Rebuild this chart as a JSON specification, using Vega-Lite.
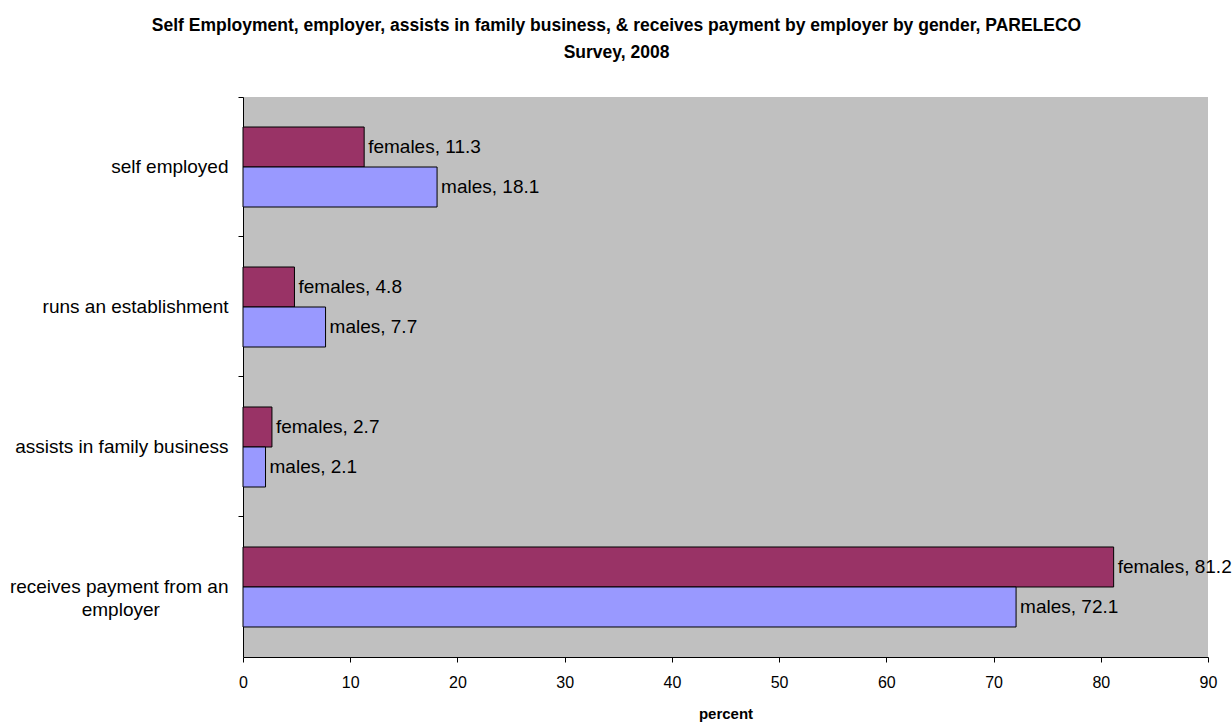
{
  "$schema": "https://vega.github.io/schema/vega-lite/v6.json",
  "autosize": "none",
  "width": 965,
  "height": 560,
  "padding": {"left": 243, "top": 97, "right": 24, "bottom": 66},
  "background": "white",
  "config": {
    "font": "Liberation Sans",
    "view": {"fill": "#C0C0C0", "stroke": null}
  },
  "title": {
    "text": ["Self Employment, employer, assists in family business, & receives payment by employer by gender, PARELECO", "Survey, 2008"],
    "fontSize": 17.5,
    "fontWeight": "bold",
    "font": "Liberation Sans",
    "color": "black",
    "anchor": "middle",
    "dx": -109,
    "offset": 35,
    "lineHeight": 27
  },
  "data": {
    "values": [
      {"category": "self employed", "gender": "females", "value": 11.3},
      {"category": "self employed", "gender": "males", "value": 18.1},
      {"category": "runs an establishment", "gender": "females", "value": 4.8},
      {"category": "runs an establishment", "gender": "males", "value": 7.7},
      {"category": "assists in family business", "gender": "females", "value": 2.7},
      {"category": "assists in family business", "gender": "males", "value": 2.1},
      {"category": "receives payment from an employer", "gender": "females", "value": 81.2},
      {"category": "receives payment from an employer", "gender": "males", "value": 72.1}
    ]
  },
  "transform": [
    {"calculate": "datum.gender + ', ' + format(datum.value, '.1f')", "as": "label"}
  ],
  "encoding": {
    "y": {
      "field": "category",
      "type": "nominal",
      "sort": ["self employed", "runs an establishment", "assists in family business", "receives payment from an employer"],
      "scale": {"paddingInner": 0.428571, "paddingOuter": 0.214286},
      "axis": {
        "title": null,
        "labelFontSize": 19,
        "labelColor": "black",
        "labelPadding": 10,
        "tickSize": 5,
        "tickColor": "black",
        "domainColor": "black",
        "bandPosition": -0.375,
        "labelLimit": 400,
        "labelExpr": "datum.value == 'receives payment from an employer' ? ['receives payment from an', 'employer\u00a0\u00a0\u00a0\u00a0\u00a0\u00a0\u00a0\u00a0\u00a0\u00a0\u00a0\u00a0\u00a0\u200b'] : datum.value",
        "labelLineHeight": 23
      }
    },
    "yOffset": {
      "field": "gender",
      "type": "nominal",
      "sort": ["females", "males"],
      "scale": {"paddingInner": 0, "paddingOuter": 0}
    },
    "x": {
      "field": "value",
      "type": "quantitative",
      "scale": {"domain": [0, 90], "nice": false},
      "axis": {
        "title": "percent",
        "titleFontSize": 15,
        "titleFontWeight": "bold",
        "titleColor": "black",
        "titlePadding": 16,
        "values": [0, 10, 20, 30, 40, 50, 60, 70, 80, 90],
        "labelFontSize": 16,
        "labelColor": "black",
        "labelPadding": 12,
        "labelFlush": false,
        "tickSize": 5,
        "tickColor": "black",
        "domainColor": "black",
        "grid": false
      }
    }
  },
  "layer": [
    {
      "mark": {"type": "bar", "stroke": "black", "strokeWidth": 1},
      "encoding": {
        "color": {
          "field": "gender",
          "type": "nominal",
          "scale": {"domain": ["females", "males"], "range": ["#993366", "#9999FF"]},
          "legend": null
        }
      }
    },
    {
      "mark": {"type": "text", "align": "left", "baseline": "middle", "dx": 4, "fontSize": 19, "color": "black"},
      "encoding": {
        "text": {"field": "label", "type": "nominal"}
      }
    }
  ]
}
